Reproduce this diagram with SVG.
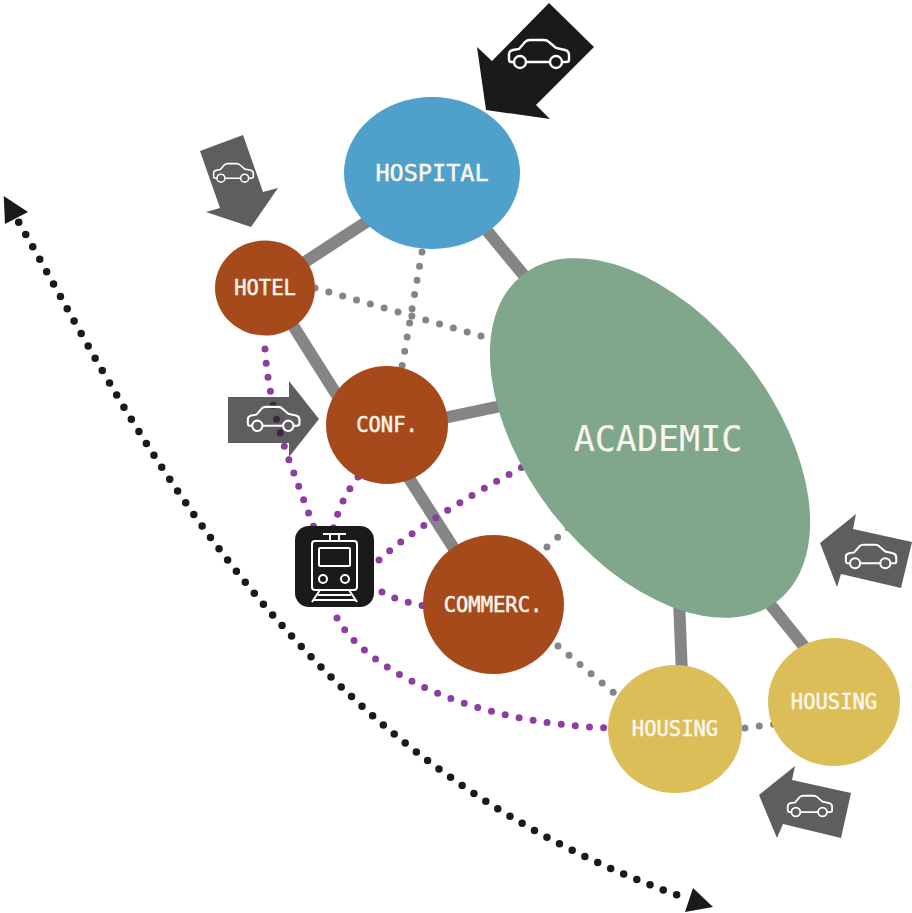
<svg xmlns="http://www.w3.org/2000/svg" width="912" height="913" viewBox="0 0 912 913">
<style>
.solid{fill:none;stroke:#858585;stroke-width:12}
.gdot{fill:none;stroke:#858585;stroke-width:7;stroke-linecap:round;stroke-dasharray:0 14.4}
.pdot{fill:none;stroke:#8e3ea0;stroke-width:7;stroke-linecap:round;stroke-dasharray:0 14.2}
.bdot{fill:none;stroke:#1a1a1a;stroke-width:7.5;stroke-linecap:round;stroke-dasharray:0 14.2}
.arrow{fill:#1a1a1a;opacity:.7}
.carline{fill:none;stroke:#fff;stroke-width:2.4}
.lab{font-family:"DejaVu Sans Mono","Liberation Mono",monospace;fill:#fbf6ec;stroke:#fbf6ec;stroke-width:.5;text-anchor:middle}
</style>
<defs>
<g id="car">
<path class="carline" d="M6,23H3Q1,23 1,20V15Q1,12 5,11L11,10L17,3Q19,1 22,1H36Q39,1 41,3L48,9L57,11Q61,12 61,16V21Q61,23 58,23H54M42,23H18"/>
<circle class="carline" cx="12" cy="23" r="6"/>
<circle class="carline" cx="48" cy="23" r="6"/>
</g>
</defs>
<g id="connectors">
<path class="solid" d="M400,200L265,288M470,210L540,295M292,324L340,400M420,423L520,402M405,472L460,558M679,600L682,675M765,598L815,660"/>
<path class="gdot" d="M315,288L490,338.5M422,252L400,378M547,547L580,517M558,646L620,698M745,728L790,722"/>
<path class="pdot" d="M265,349C267,385 278,430 289,460L317,536M358,477Q340,500 333,530M379,560Q420,522 530,463M382,592Q400,602 430,607M337,618C362,665 465,725 615,728"/>
<path class="bdot" d="M18.7,222.3C125,405 280,755 680,896"/>
<polygon fill="#1a1a1a" points="3.7,196 28,212 5,224"/>
<polygon fill="#1a1a1a" points="693,888 713,907 685,912"/>
</g>
<g id="hospital"><ellipse cx="432" cy="173" rx="88" ry="76" fill="#4fa0ca"/><text class="lab" x="432" y="181" font-size="23.5">HOSPITAL</text></g>
<g id="hotel"><ellipse cx="265" cy="288" rx="50" ry="47.500" fill="#a64a1c"/><text class="lab" x="265" y="295" font-size="20.5">HOTEL</text></g>
<g id="conf"><ellipse cx="387" cy="425" rx="61" ry="59" fill="#a64a1c"/><text class="lab" x="387" y="432" font-size="20.5">CONF.</text></g>
<g id="commerc"><ellipse cx="493.500" cy="604.500" rx="70.500" ry="69.500" fill="#a64a1c"/><text class="lab" x="493" y="612" font-size="20.5">COMMERC.</text></g>
<g id="academic"><ellipse cx="650" cy="438" rx="207" ry="123" transform="rotate(52 650 438)" fill="#80a68c"/><text class="lab" x="658" y="451" font-size="35" style="stroke-width:.1">ACADEMIC</text></g>
<g id="housing1"><ellipse cx="675" cy="729" rx="67" ry="64" fill="#dbbe58"/><text class="lab" x="675" y="736" font-size="20.5">HOUSING</text></g>
<g id="housing2"><ellipse cx="834" cy="702" rx="66" ry="64" fill="#dbbe58"/><text class="lab" x="834" y="709" font-size="20.5">HOUSING</text></g>
<g id="arrow-hospital"><polygon fill="#1a1a1a" points="549,3 594,47 536,105 550,119 486,110 477,47 492,61"/><use href="#car" x="508" y="39"/></g>
<g id="arrow-hotel"><polygon class="arrow" points="200,151 243,135 263,192 278,188 251,227 206,212 220,208"/><use href="#car" transform="translate(213,163) scale(.66)"/></g>
<g id="arrow-conf"><polygon class="arrow" points="228,397 289,397 289,381 319,419 289,457 289,443 228,443"/><use href="#car" transform="translate(247,406) scale(.86)"/></g>
<g id="arrow-right"><polygon class="arrow" points="912,542 901,588 841,574 837,587 820,543 856,514 853,529"/><use href="#car" transform="translate(845,544) scale(.84)"/></g>
<g id="arrow-bottom"><polygon class="arrow" points="851,793 841,838 783,824 777,838 759,795 795,766 792,780"/><use href="#car" transform="translate(787,795) scale(.74)"/></g>
<g id="train">
<rect x="295" y="526" width="79" height="81" rx="14" fill="#1a1a1a"/>
<g fill="none" stroke="#fff" stroke-width="2">
<rect x="312" y="541" width="45" height="49" rx="3"/>
<rect x="319" y="548" width="31" height="18" rx="1"/>
<circle cx="323" cy="579" r="4"/><circle cx="345" cy="579" r="4"/>
<path d="M323,534H346M330,534V541M339,534V541M320,590L312,602M349,590L357,602M318,595H351M314,600H355"/>
</g>
</g>
</svg>
